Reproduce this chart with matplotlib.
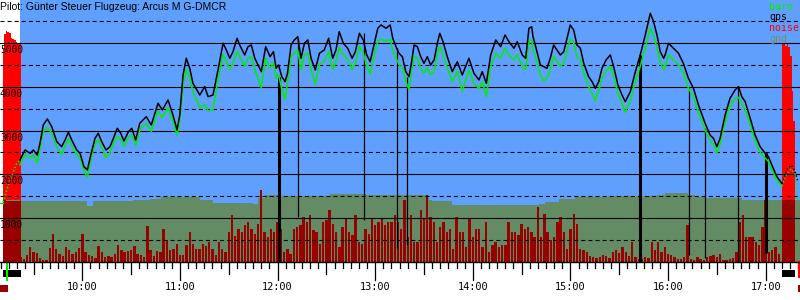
import numpy as np
import matplotlib
matplotlib.use("Agg")
import matplotlib.pyplot as plt
from matplotlib.patches import Rectangle

plt.rcParams['lines.scale_dashes'] = False

TITLE = "Pilot: Günter Steuer Flugzeug: Arcus M G-DMCR"

# ---- flight trace (time in minutes after midnight, altitude in m) ----
gps_t = [561.7, 564.8, 567.9, 569.9, 572.3, 574.0, 576.0, 578.5, 581.2, 584.3,
         587.3, 589.4, 591.4, 593.5, 596.6, 598.6, 601.0, 603.1, 605.2, 607.8,
         609.8, 611.9, 614.6, 617.0, 619.1, 621.5, 623.6, 625.6, 628.3, 630.4,
         632.8, 635.3, 639.3, 642.4, 646.5, 649.2, 652.7, 655.7, 658.2, 659.9,
         661.9, 663.9, 666.0, 668.0, 672.2, 675.2, 677.3, 680.3, 683.4, 686.5,
         688.5, 690.6, 692.6, 695.1, 696.7, 699.8, 701.8, 703.9, 706.0, 710.0,
         712.7, 715.4, 717.5, 719.1, 720.6, 722.6, 724.6, 726.1, 728.3, 730.3,
         732.4, 734.4, 736.5, 738.6, 740.6, 743.2, 745.7, 748.7, 751.4, 753.9,
         755.9, 757.9, 760.4, 763.1, 765.8, 767.8, 770.3, 772.7, 774.8, 776.9,
         778.8, 781.6, 783.6, 786.7, 789.2, 790.8, 793.2, 794.6, 796.7, 798.8,
         800.8, 802.4, 803.9, 805.9, 808.0, 810.0, 812.0, 814.1, 816.2, 818.2,
         819.7, 821.7, 824.3, 827.4, 830.5, 833.5, 837.6, 840.7, 843.8, 845.8,
         848.3, 851.0, 854.1, 857.1, 859.8, 862.2, 865.3, 867.3, 870.4, 872.5,
         874.5, 876.2, 877.0, 878.4, 881.5, 883.6, 885.6, 887.6, 889.7, 891.7,
         893.8, 895.9, 897.9, 899.9, 902.0, 904.0, 906.1, 908.2, 911.2, 913.3,
         915.3, 917.4, 919.4, 921.9, 924.5, 926.6, 929.2, 931.7, 933.7, 936.8,
         939.9, 942.9, 946.0, 949.1, 951.1, 953.2, 955.2, 957.3, 958.2, 960.3,
         963.3, 966.4, 969.4, 972.5, 975.6, 978.7, 982.8, 985.8, 987.9, 990.0,
         992.0, 995.1, 998.1, 1001.2, 1003.3, 1005.3, 1007.4, 1010.5, 1013.5, 1016.6,
         1019.7, 1021.7, 1023.8, 1026.9, 1029.9]
gps_alt = [2327, 2556, 2480, 2556, 2441, 2709, 3128, 3266, 3089, 2746,
           2631, 2785, 2961, 2785, 2556, 2480, 2173, 2098, 2441, 2824,
           2938, 2746, 2556, 2631, 2824, 3053, 2938, 2762, 2975, 3053,
           2785, 3167, 3318, 3128, 3625, 3472, 3701, 3357, 3014, 3357,
           4273, 4656, 4427, 4083, 3815, 4005, 3776, 3815, 4388, 4999,
           4846, 4656, 4807, 5114, 4960, 4731, 4921, 4960, 4656, 4349,
           4921, 4692, 4807, 4427, 4502, 4234, 4120, 4312, 4960, 5075,
           5150, 4656, 4999, 5075, 4656, 4388, 4770, 4846, 5114, 4656,
           4846, 5265, 4999, 4885, 4656, 4807, 5228, 5075, 4731, 4578,
           4885, 5343, 5418, 5343, 5418, 5114, 4885, 4770, 4692, 4349,
           4234, 4578, 4960, 4921, 4692, 4541, 4692, 4502, 4617, 4999,
           5228, 5036, 4692, 4349, 4578, 4273, 4656, 4312, 4159, 4349,
           4083, 4731, 5075, 4921, 5189, 5036, 4885, 5036, 4731, 4656,
           5343, 5379, 5150, 4960, 4502, 4463, 4427, 4656, 4960, 4846,
           4731, 4807, 5114, 5418, 5303, 4960, 4885, 4541, 4234, 4120,
           3969, 4120, 4427, 4617, 4731, 4463, 4044, 3815, 3662, 3891,
           4349, 4731, 5189, 5686, 5494, 5189, 4807, 4656, 4731, 4999,
           4885, 4770, 4541, 4198, 3969, 3586, 3167, 2899, 2824, 2631,
           2824, 3357, 3740, 3930, 4005, 3776, 3662, 3282, 2899, 2631,
           2480, 2402, 2212, 1944, 1793]
baro_alt = [2217, 2446, 2370, 2446, 2260, 2579, 2978, 3070, 2939, 2616,
            2450, 2655, 2810, 2655, 2446, 2370, 2083, 1930, 2331, 2694,
            2790, 2616, 2380, 2501, 2694, 2870, 2808, 2632, 2845, 2903,
            2655, 3017, 3168, 2978, 3450, 3297, 3526, 3207, 2900, 3207,
            4048, 4396, 4202, 3883, 3520, 3600, 3450, 3480, 4163, 4739,
            4586, 4396, 4547, 4814, 4700, 4471, 4661, 4700, 4396, 3980,
            4661, 4432, 4547, 4202, 4277, 3950, 3720, 4087, 4700, 4775,
            4850, 4396, 4739, 4775, 4396, 4060, 4510, 4586, 4814, 4396,
            4586, 4900, 4739, 4625, 4396, 4547, 4928, 4775, 4471, 4300,
            4625, 5043, 5098, 5043, 5098, 4814, 4625, 4510, 4432, 4124,
            3940, 4353, 4700, 4661, 4432, 4316, 4432, 4277, 4357, 4739,
            4928, 4736, 4432, 4124, 4353, 3900, 4396, 4087, 3959, 4124,
            3780, 4471, 4775, 4661, 4889, 4736, 4625, 4736, 4471, 4396,
            5043, 5079, 4850, 4700, 4277, 4130, 4202, 4396, 4700, 4586,
            4471, 4547, 4814, 5098, 5003, 4700, 4625, 4316, 4009, 3850,
            3680, 3920, 4202, 4357, 4471, 4238, 3844, 3615, 3420, 3691,
            4124, 4471, 4889, 5350, 5174, 4889, 4547, 4396, 4471, 4739,
            4625, 4510, 4316, 3973, 3769, 3411, 3017, 2769, 2694, 2490,
            2694, 3207, 3565, 3730, 3760, 3601, 3487, 3132, 2769, 2501,
            2370, 2292, 2102, 1854, 1733]

# ground roll before take-off, engine climb, engine run before landing
roll_t = [549.4, 551.3]
roll_alt = [1350, 1350]
climb_t = [551.3, 554.5, 557.6, 559.7, 561.7]
climb_alt = [1360, 1754, 2059, 2251, 2330]
landing_t = [1029.9, 1033.0, 1035.7, 1038.1, 1039.8]
landing_gps = [1793, 2098, 2212, 2059, 1830]
landing_baro = [1733, 2008, 2122, 1990, 1372]

# ---- ground elevation under the track ----
gnd_t = [551.0, 561.7, 603.0, 606.6, 631.2, 641.6, 648.4, 672.3, 680.3, 704.9,
         708.0, 712.3, 721.5, 752.2, 774.3, 813.1, 814.9, 827.2, 880.7, 884.4,
         893.0, 902.8, 925.5, 953.2, 958.1, 972.0, 976.5, 982.7, 1005.4, 1041.2]
gnd_alt = [1400, 1395, 1280, 1380, 1400, 1440, 1486, 1410, 1335, 1320,
           1450, 1525, 1509, 1548, 1518, 1411, 1395, 1296, 1330, 1372,
           1427, 1472, 1502, 1530, 1564, 1520, 1486, 1450, 1411, 1411]

# ---- noise level (0..1000), one value every 2 minutes from 9:22 ----
noise_start, noise_step = 562, 2
noise_val = [19, 11, 27, 57, 38, 34, 15, 8, 8, 53, 107, 50, 30, 23, 57, 46, 30, 38, 53, 107,
             38, 27, 23, 15, 61, 38, 19, 23, 19, 30, 65, 46, 38, 42, 46, 61,
             30, 27, 19, 137, 46, 23, 42, 38, 126, 84, 46, 50, 69, 27, 27, 65, 115, 69, 50, 50,
             69, 61, 76, 50, 27, 76, 50, 38, 115, 180, 99, 126, 115, 141, 153, 126, 107, 145, 275, 115, 95,
             126, 115, 153, 126, 38, 50, 30, 126, 134, 141, 172, 153, 180, 122, 115, 69, 153, 160, 199, 145,
             115, 57, 134, 164, 115, 103, 180, 76, 69, 126, 107, 164, 141, 153, 164, 141, 153, 153, 180, 153, 126,
             237, 95, 180, 76, 76, 199, 164, 256, 172, 153, 76, 134, 153, 115, 126, 50, 172, 115, 115, 57,
             164, 95, 126, 126, 57, 153, 38, 65, 76, 57, 65, 65, 153, 115, 115, 103, 145, 126, 134, 115,
             95, 210, 95, 183, 115, 84, 95, 153, 172, 115, 50, 126, 183, 145, 50, 46, 38, 23, 19, 15,
             19, 27, 23, 15, 38, 46, 34, 57, 38, 23, 76, 19, 11, 11, 19, 15, 76, 46, 76, 38, 57,
             30, 27, 19, 11, 11, 19, 141, 11, 8, 19, 11, 8, 19, 23, 27, 19, 30, 8, 8, 11,
             15, 38, 153, 180, 95, 95, 95, 76, 65, 134, 237, 38, 46, 57, 30]
noise_t = np.arange(len(noise_val)) * noise_step + noise_start

# engine runs (1-minute noise values)
engine1_t = [551, 552, 553, 554, 555, 556, 557, 558, 559, 560, 561]
engine1_val = [812, 869, 880, 876, 872, 853, 850, 846, 838, 834, 834]
engine2_t = [1030, 1031, 1032, 1033, 1034, 1035, 1036, 1037]
engine2_val = [831, 834, 826, 831, 819, 785, 652, 538]

# ---- event markers (vertical lines) ----
event_t = [721.1, 732.8, 773.3, 793.2, 799.6, 942.9, 973.1, 982.7, 1002.8, 1020.2]
event_top = [4227, 5120, 5235, 4891, 4227, 4731, 3975, 3059, 3998, 2487]
event_bottom = [0, 1021, 953, 311, 380, 0, 151, 82, 0, 197]
event_major = [True, False, False, False, False, True, False, False, False, True]

takeoff_time = 553.7
landing_time = 1040.4

alt_labels = [1000, 2000, 3000, 4000, 5000]
hour_labels = ["10:00", "11:00", "12:00", "13:00", "14:00", "15:00", "16:00", "17:00"]

SKY = "#5fa0ff"
GND = "#648c64"
DARKRED = "#990000"
RED = "#ff0000"
GREEN = "#00ee00"
MONO = "DejaVu Sans Mono"

fig = plt.figure(figsize=(8, 3), dpi=100)
ax = fig.add_axes([0, 38.4 / 300, 1, 261.6 / 300])
ax.set_axis_off()
XMIN, XMAX = 549.4, 1041.1
trans = ax.get_xaxis_transform()

ax.axvspan(climb_t[-1], XMAX + 1, color=SKY, lw=0, zorder=0)

# engine noise (bright red), ground, and dark parts
ax.bar(engine1_t, np.array(engine1_val) / 1000, width=1, align='edge', color=RED,
       lw=0, transform=trans, zorder=1.5)
ax.bar(engine2_t, np.array(engine2_val) / 1000, width=1, align='edge', color=RED,
       lw=0, transform=trans, zorder=1.5)
ax.fill_between(gnd_t, 0, gnd_alt, step='post', color=GND, lw=0, zorder=2)
for et in (engine1_t, engine2_t):
    et = np.array(et, dtype=float)
    ax.bar(et, np.interp(et + 0.5, gnd_t, gnd_alt), width=1, align='edge',
           color=DARKRED, lw=0, zorder=2.5)
ax.bar(noise_t, np.array(noise_val) / 1000, width=1.45, color=DARKRED, lw=0,
       transform=trans, zorder=3)

# horizontal grid
for v in range(500, 6000, 500):
    if v % 1000 == 0:
        ax.axhline(v, color='k', lw=0.8, zorder=4)
    else:
        ax.axhline(v, color='k', lw=0.8, ls=(0, (2.9, 2.2)), zorder=4)
ax.axhline(0, color='k', lw=1.0, zorder=4, clip_on=False)

for v in alt_labels:
    ax.annotate(str(v), xy=(0, v), xycoords=('axes fraction', 'data'),
                xytext=(0, -7.3), textcoords='offset points', ha='left', va='baseline',
                fontfamily=MONO, fontsize=6.9, zorder=8)

# event lines
for t, top, bot, major in zip(event_t, event_top, event_bottom, event_major):
    ax.vlines(t, bot, top, colors='k', lw=2.2 if major else 0.9, zorder=5)

# traces
ax.plot(roll_t, roll_alt, color=GREEN, lw=1.0, zorder=6)
ax.plot(climb_t, climb_alt, color=GREEN, lw=1.2, ls=(0, (1, 1.6)), zorder=6)
ax.plot(gps_t, baro_alt, color=GREEN, lw=1.1, zorder=6)
ax.plot(gps_t, gps_alt, color='k', lw=1.1, zorder=7)
ax.plot(landing_t, landing_baro, color=GREEN, lw=1.1, ls=(0, (1, 1.6)), zorder=6)
ax.plot(landing_t, landing_gps, color='k', lw=1.1, ls=(0, (1, 1.6)), zorder=7)

# time axis ticks
H = 261.6
for m in range(550, 1045, 5):
    if m % 60 == 0:
        L = 18
    elif m % 30 == 0:
        L = 12
    else:
        L = 6
    ax.plot([m, m], [0, -L / H], color='k', lw=0.9, transform=trans, clip_on=False)
for i, lab in enumerate(hour_labels):
    ax.text(600 + 60 * i, -28.4 / H, lab, transform=trans, ha='center', va='baseline',
            fontfamily=MONO, fontsize=7.4)

# engine / takeoff / landing markers below the axis
for et in (engine1_t, engine2_t):
    ax.add_patch(Rectangle((et[0], -15.4 / H), et[-1] + 1 - et[0], 7.0 / H, transform=trans,
                           clip_on=False, color='k', lw=0))
ax.plot([takeoff_time] * 2, [0, -18 / H], color=GREEN, lw=1.5, transform=trans, clip_on=False)
ax.plot([landing_time] * 2, [0, -15.4 / H], color=RED, lw=1.5, transform=trans, clip_on=False)
ax.add_patch(Rectangle((XMIN, -30.6 / H), takeoff_time - XMIN + 0.6, 7.0 / H, transform=trans,
                       clip_on=False, color=DARKRED, lw=0))
ax.add_patch(Rectangle((landing_time - 0.4, -30.6 / H), 2.0, 7.0 / H, transform=trans,
                       clip_on=False, color=DARKRED, lw=0))

ax.set_xlim(XMIN, XMAX)
ax.set_ylim(0, 5990)

# title and legend
fig.text(0.5 / 800, 1 - 10 / 300, TITLE, ha='left', va='baseline',
         fontfamily='Liberation Sans', fontsize=7.5)
for lab, col, yb in [("baro", GREEN, 10), ("gps", 'k', 20.5), ("noise", RED, 31), ("gnd", "#6f8f6f", 41.5)]:
    fig.text(769 / 800, 1 - yb / 300, lab, ha='left', va='baseline', color=col,
             fontfamily=MONO, fontsize=7.2)

fig.savefig("out.png", dpi=100)
